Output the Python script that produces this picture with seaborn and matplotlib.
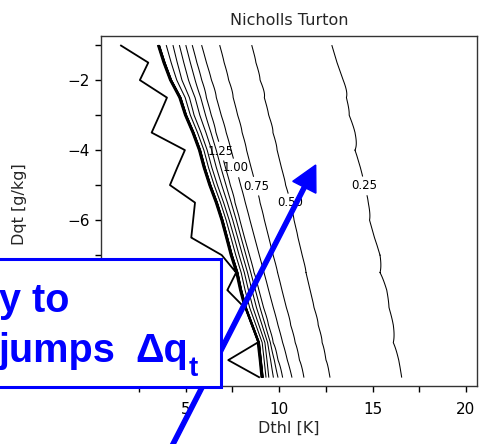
import numpy as np
import matplotlib
matplotlib.use("Agg")
import matplotlib.pyplot as plt
import seaborn as sns
from matplotlib.patches import Rectangle, FancyArrow
from matplotlib.transforms import IdentityTransform

# Rows of the sampled field: jump in total water Dqt [g/kg]
dqt = [-1.0, -1.5, -2.0, -2.5, -3.0, -3.5, -4.0, -4.5, -5.0, -5.5,
       -6.0, -6.5, -7.0, -7.5, -8.0, -8.5, -9.0, -9.5, -10.0, -10.5]

# Dthl [K] where the field passes each value, one entry per Dqt row
dthl_025 = [12.82, 13.10, 13.43, 13.60, 13.75, 14.06, 14.06, 14.35, 14.55, 14.77,
            14.84, 15.10, 15.40, 15.40, 15.76, 15.88, 16.11, 16.11, 16.40, 16.56]
dthl_050 = [8.53, 8.76, 8.98, 9.21, 9.44, 9.67, 9.89, 10.12, 10.35, 10.58,
            10.80, 11.01, 11.23, 11.44, 11.66, 11.87, 12.09, 12.30, 12.51, 12.72]
dthl_075 = [6.82, 7.06, 7.30, 7.54, 7.78, 8.02, 8.26, 8.50, 8.74, 8.98,
            9.21, 9.45, 9.68, 9.92, 10.15, 10.39, 10.62, 10.86, 11.09, 11.33]
dthl_100 = [5.85, 6.11, 6.38, 6.64, 6.90, 7.17, 7.43, 7.69, 7.94, 8.19,
            8.44, 8.69, 8.94, 9.19, 9.44, 9.69, 9.94, 10.19, 10.44, 10.69]
dthl_125 = [5.35, 5.60, 5.86, 6.11, 6.37, 6.62, 6.88, 7.13, 7.39, 7.64,
            7.90, 8.15, 8.41, 8.66, 8.92, 9.17, 9.43, 9.68, 9.94, 10.19]
dthl_200 = [4.32, 4.55, 4.80, 5.20, 5.45, 5.82, 6.15, 6.40, 6.70, 7.03,
            7.33, 7.60, 7.86, 8.14, 8.36, 8.60, 8.92, 9.24, 9.35, 9.45]
dthl_edge = [3.60, 3.90, 4.25, 4.75, 5.05, 5.45, 5.80, 6.05, 6.35, 6.70,
             7.00, 7.25, 7.50, 7.80, 8.00, 8.25, 8.60, 8.95, 9.05, 9.15]
dthl_zigzag = [1.50, 3.00, 2.55, 4.00, 3.60, 3.18, 4.96, 4.55, 4.16, 5.50,
               5.40, 5.30, 6.93, 7.70, 7.23, 8.15, 8.50, 8.85, 7.28, 8.97]

# Field values on those crossings (edge, 2.0, 1.25, 1.0, 0.75, 0.5, 0.25, far right)
band_values = [2.5, 2.0, 1.25, 1.0, 0.75, 0.5, 0.25, 0.1]
zigzag_value = 6.0
dthl_far = 20.0

levels = [0.25, 0.5, 0.75, 1.0, 1.25, 1.5, 1.75, 2.0, 2.25, 2.5, 2.75, 3.0,
          3.25, 3.5, 3.75, 4.0, 4.25, 4.5, 4.75, 5.0, 5.25, 5.5, 5.75, 6.0]
labelled_levels = [0.25, 0.5, 0.75, 1.0, 1.25]

# Grid columns follow the steep edge, so each cell is a parallelogram
offset = np.linspace(-9.0, 12.0, 1051)
X = np.array(dthl_edge)[:, None] + offset[None, :]
Y = np.repeat(np.array(dqt)[:, None], offset.size, axis=1)
field = np.empty_like(X)
for i in range(len(dqt)):
    x = X[i]
    knots = [dthl_edge[i], dthl_200[i], dthl_125[i], dthl_100[i],
             dthl_075[i], dthl_050[i], dthl_025[i], dthl_far]
    right = np.interp(x, knots, band_values)
    steep = band_values[0] + 40.0 * (dthl_edge[i] - x)
    gentle = np.maximum(zigzag_value - 0.2, zigzag_value + 0.1 * (x - dthl_zigzag[i]))
    field[i] = np.where(x < dthl_edge[i], np.minimum(steep, gentle), right)

sns.set_theme(style="ticks")
plt.rcParams["font.family"] = ["DejaVu Sans"]

W, H = 490, 444
fig, ax = plt.subplots(figsize=(W / 100, H / 100), dpi=100)
fig.patch.set_facecolor("white")
fig.subplots_adjust(left=101 / W, right=477 / W, bottom=(H - 386) / H, top=(H - 36) / H)

widths = [0.75] * (len(levels) - 1) + [1.3]
cs = ax.contour(X, Y, field, levels=levels, colors="black", linewidths=widths)

label_spots = [(14.49, -5.03), (10.58, -5.51), (8.76, -5.03), (7.69, -4.51), (6.89, -4.03)]
labels = ax.clabel(cs, levels=labelled_levels, fmt="%.2f", fontsize=8.5,
                   inline=True, inline_spacing=-3, manual=label_spots)
for t in labels:
    t.set_rotation(0)

ax.set_xlim(0.47, 20.59)
ax.set_ylim(-10.74, -0.74)
ax.set_xticks([5, 10, 15, 20])
ax.set_xticks([2.5, 7.5, 12.5, 17.5], minor=True)
ax.set_yticks([-6, -4, -2])
ax.set_yticks([-10, -9, -8, -7, -5, -3, -1], minor=True)
ax.tick_params(which="both", direction="out", length=4.5, width=1.0, color="black",
               labelsize=11, labelcolor="black")
ax.tick_params(axis="x", which="both", pad=7.0)
ax.tick_params(axis="y", which="both", pad=3.5)
for s in ax.spines.values():
    s.set_color("#333333")
    s.set_linewidth(1.0)

ax.set_title("Nicholls Turton", fontsize=11.5, pad=8)
ax.set_xlabel("Dthl [K]", fontsize=11.5, labelpad=2.5)
ax.set_ylabel("Dqt [g/kg]", fontsize=11.5)
ax.yaxis.set_label_coords(-0.197, 0.52)

# Overlay: arrow, then the text box above it
px = IdentityTransform()
blue = "#0000ff"
fig.add_artist(FancyArrow(171.0, -4.0, 144.7, 283.0, width=4.2, head_width=26,
                          head_length=25, length_includes_head=True,
                          color=blue, transform=px, zorder=2.5))
fig.add_artist(Rectangle((-10, H - 387.3), 230.7, 128.0, linewidth=2.2,
                         edgecolor=blue, facecolor="white", transform=px, zorder=3))
box_font = dict(fontsize=28.5, fontweight="bold", family="Liberation Sans",
                color=blue, va="baseline", ha="left", transform=px, zorder=4)
fig.text(-1, H - 311.7, "y to", **box_font)
fig.text(-1, H - 361.7, "jumps", **box_font)
fig.text(135, H - 361.7, "\u0394q", **box_font)
fig.text(189, H - 376, "t", **{**box_font, "fontsize": 20})

fig.savefig("out.png", dpi=100, facecolor="white")
